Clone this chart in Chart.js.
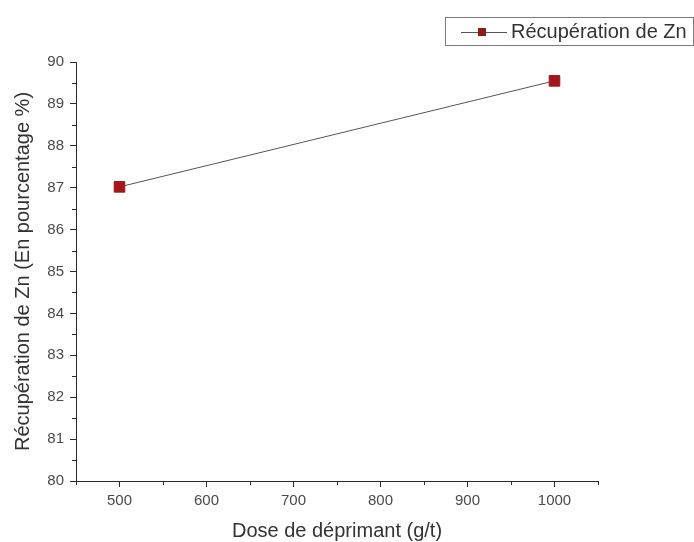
<!DOCTYPE html>
<html>
<head>
<meta charset="utf-8">
<script src="https://cdn.jsdelivr.net/npm/chart.js@4.4.1/dist/chart.umd.min.js"></script>
<style>
  body { margin: 0; background: #fff; }
  #wrap { width: 694px; height: 542px; }
</style>
</head>
<body>
<div id="wrap"><canvas id="myChart" width="694" height="542"></canvas></div>
<script>
const seriesLabel = 'Récupération de Zn';
const doses = [500, 1000];
const recoveries = [87.02, 89.55];

const xTickValues = [500, 600, 700, 800, 900, 1000];
const yTickValues = [80, 81, 82, 83, 84, 85, 86, 87, 88, 89, 90];
const xMinorTicks = [450, 550, 650, 750, 850, 950, 1050];
const yMinorTicks = [80.5, 81.5, 82.5, 83.5, 84.5, 85.5, 86.5, 87.5, 88.5, 89.5];

const fontFamily = '"Liberation Sans", Arial, sans-serif';
const axisColor = '#2a2a2a';
const lineColor = '#555555';
const markerColor = '#a3161c';

// minor ticks (Origin style) + framed legend
const originExtras = {
    id: 'originExtras',
    afterDraw(chart) {
        const c = chart.ctx;
        const xs = chart.scales.x;
        const ys = chart.scales.y;
        const area = chart.chartArea;

        c.save();
        c.strokeStyle = axisColor;
        c.lineWidth = 1;
        c.beginPath();
        xMinorTicks.forEach(v => {
            const px = Math.round(xs.getPixelForValue(v)) + 0.5;
            c.moveTo(px, area.bottom);
            c.lineTo(px, area.bottom + 4);
        });
        yMinorTicks.forEach(v => {
            const py = Math.round(ys.getPixelForValue(v)) + 0.5;
            c.moveTo(area.left, py);
            c.lineTo(area.left - 4, py);
        });
        c.stroke();

        // legend box
        c.strokeStyle = '#7a7a7a';
        c.strokeRect(445.5, 17.5, 248, 28);
        c.strokeStyle = lineColor;
        c.beginPath();
        c.moveTo(461, 32.5);
        c.lineTo(507, 32.5);
        c.stroke();
        c.fillStyle = '#8e1c1f';
        c.fillRect(478, 28, 8, 8);
        c.fillStyle = '#333';
        c.font = '20px ' + fontFamily;
        c.textBaseline = 'middle';
        c.textAlign = 'left';
        c.fillText(seriesLabel, 511, 32);
        c.restore();
    }
};

const ctx = document.getElementById('myChart').getContext('2d');

const myChart = new Chart(ctx, {
    type: 'line',
    data: {
        datasets: [{
            label: seriesLabel,
            data: doses.map((d, i) => ({ x: d, y: recoveries[i] })),
            borderColor: lineColor,
            borderWidth: 1,
            pointStyle: 'rect',
            pointRadius: 7.5,
            pointBackgroundColor: markerColor,
            pointBorderColor: markerColor,
            pointBorderWidth: 1,
            tension: 0,
            clip: false
        }]
    },
    options: {
        responsive: false,
        animation: false,
        layout: {
            padding: { top: 62, right: 96, left: 0, bottom: 0 }
        },
        plugins: {
            legend: { display: false },
            tooltip: { enabled: false }
        },
        scales: {
            x: {
                type: 'linear',
                min: 450,
                max: 1050,
                afterBuildTicks: scale => {
                    scale.ticks = xTickValues.map(v => ({ value: v }));
                },
                afterFit: scale => { scale.height = 61; },
                border: { display: true, color: axisColor, width: 1 },
                grid: {
                    drawOnChartArea: false,
                    drawTicks: true,
                    tickLength: 6,
                    color: axisColor
                },
                ticks: {
                    padding: 5,
                    color: '#4a4a4a',
                    font: { family: fontFamily, size: 15 },
                    maxRotation: 0,
                    callback: v => String(v)
                },
                title: {
                    display: true,
                    text: 'Dose de déprimant (g/t)',
                    color: '#333',
                    font: { family: fontFamily, size: 20, lineHeight: 1.1 },
                    padding: { top: 0, bottom: 0 }
                }
            },
            y: {
                type: 'linear',
                min: 80,
                max: 90,
                afterBuildTicks: scale => {
                    scale.ticks = yTickValues.map(v => ({ value: v }));
                },
                afterFit: scale => { scale.width = 76; },
                border: { display: true, color: axisColor, width: 1 },
                grid: {
                    drawOnChartArea: false,
                    drawTicks: true,
                    tickLength: 6,
                    color: axisColor
                },
                ticks: {
                    padding: 6,
                    color: '#4a4a4a',
                    font: { family: fontFamily, size: 15 },
                    callback: v => String(v)
                },
                title: {
                    display: true,
                    text: 'Récupération de Zn (En pourcentage %)',
                    color: '#333',
                    font: { family: fontFamily, size: 20, lineHeight: 1.1 },
                    padding: { top: 12, bottom: 0 }
                }
            }
        }
    },
    plugins: [originExtras]
});
</script>
</body>
</html>
